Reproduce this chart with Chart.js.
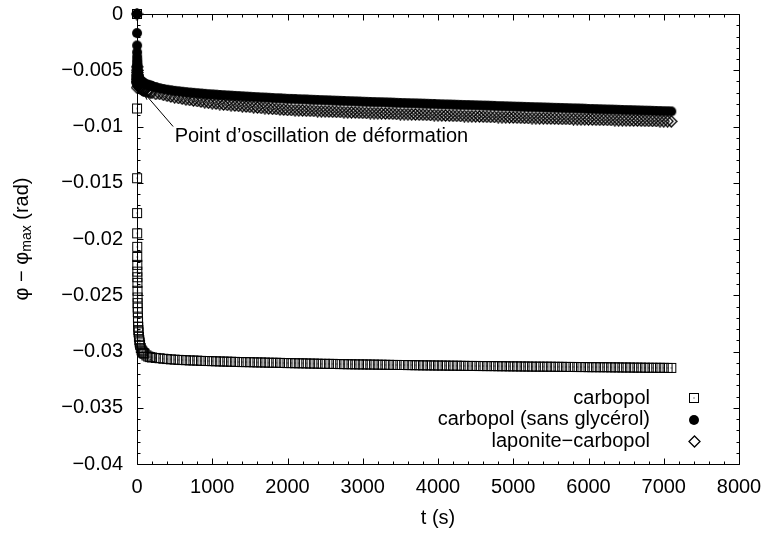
<!DOCTYPE html>
<html>
<head>
<meta charset="utf-8">
<script src="https://cdn.jsdelivr.net/npm/chart.js@4"></script>
<style>
  html, body { margin: 0; padding: 0; background: #fff; }
  canvas { display: block; }
</style>
</head>
<body>
<canvas id="myChart" width="768" height="533"></canvas>
<script>
// temps (s), shared by the three series
const times = [0, 0.5, 1, 1.5, 2, 2.5, 3, 3.5, 4, 4.5, 5, 6, 7, 8, 9, 10, 12, 14, 16, 18, 20, 25, 30, 35, 40,
  50, 60, 70, 80, 90, 100, 125, 150, 175, 200, 250,
  300, 350, 400, 450, 500, 550, 600, 650, 700, 750, 800, 850, 900, 950, 1000,
  1050, 1100, 1150, 1200, 1250, 1300, 1350, 1400, 1450, 1500, 1550, 1600, 1650, 1700, 1750, 1800, 1850, 1900, 1950, 2000,
  2050, 2100, 2150, 2200, 2250, 2300, 2350, 2400, 2450, 2500, 2550, 2600, 2650, 2700, 2750, 2800, 2850, 2900, 2950, 3000,
  3050, 3100, 3150, 3200, 3250, 3300, 3350, 3400, 3450, 3500, 3550, 3600, 3650, 3700, 3750, 3800, 3850, 3900, 3950, 4000,
  4050, 4100, 4150, 4200, 4250, 4300, 4350, 4400, 4450, 4500, 4550, 4600, 4650, 4700, 4750, 4800, 4850, 4900, 4950, 5000,
  5050, 5100, 5150, 5200, 5250, 5300, 5350, 5400, 5450, 5500, 5550, 5600, 5650, 5700, 5750, 5800, 5850, 5900, 5950, 6000,
  6050, 6100, 6150, 6200, 6250, 6300, 6350, 6400, 6450, 6500, 6550, 6600, 6650, 6700, 6750, 6800, 6850, 6900, 6950, 7000,
  7050, 7100];

const carbopol = [0, -0.0084, -0.0146, -0.0177, -0.0195, -0.0207, -0.0216, -0.0223, -0.0229, -0.0234, -0.0239, -0.0246, -0.0252, -0.0257, -0.0261, -0.0265, -0.027, -0.0274, -0.0278, -0.0281, -0.0283, -0.0287, -0.029, -0.0292, -0.0294,
  -0.0297, -0.0299, -0.03, -0.0301, -0.03015, -0.0302, -0.03035, -0.03045, -0.0305, -0.03053, -0.03057,
  -0.0306, -0.03064, -0.03067, -0.0307, -0.03072, -0.03074, -0.03076, -0.03077, -0.03079, -0.0308, -0.03081, -0.03083, -0.03084, -0.03085, -0.03086,
  -0.03087, -0.03088, -0.03089, -0.0309, -0.03091, -0.03092, -0.03093, -0.03094, -0.03094, -0.03095, -0.03096, -0.03097, -0.03097, -0.03098, -0.03099, -0.031, -0.031, -0.03101, -0.03102, -0.03103,
  -0.03103, -0.03104, -0.03105, -0.03105, -0.03106, -0.03107, -0.03107, -0.03108, -0.03109, -0.03109, -0.0311, -0.0311, -0.03111, -0.03112, -0.03112, -0.03113, -0.03113, -0.03114, -0.03114, -0.03115,
  -0.03115, -0.03116, -0.03116, -0.03117, -0.03117, -0.03118, -0.03118, -0.03119, -0.03119, -0.0312, -0.0312, -0.03121, -0.03121, -0.03122, -0.03122, -0.03123, -0.03123, -0.03123, -0.03124, -0.03124,
  -0.03125, -0.03125, -0.03126, -0.03126, -0.03126, -0.03127, -0.03127, -0.03128, -0.03128, -0.03128, -0.03129, -0.03129, -0.0313, -0.0313, -0.0313, -0.03131, -0.03131, -0.03131, -0.03132, -0.03132,
  -0.03132, -0.03133, -0.03133, -0.03133, -0.03134, -0.03134, -0.03134, -0.03135, -0.03135, -0.03135, -0.03136, -0.03136, -0.03136, -0.03137, -0.03137, -0.03137, -0.03138, -0.03138, -0.03138, -0.03139,
  -0.03139, -0.03139, -0.0314, -0.0314, -0.0314, -0.03141, -0.03141, -0.03141, -0.03142, -0.03142, -0.03142, -0.03143, -0.03143, -0.03143, -0.03144, -0.03144, -0.03144, -0.03145, -0.03145, -0.03145,
  -0.03146, -0.03146];

const sansGlycerol = [0, -0.0017, -0.0028, -0.0034, -0.0038, -0.0041, -0.0043, -0.0045, -0.0046, -0.0047, -0.0048, -0.005, -0.0051, -0.0052, -0.00525, -0.0053, -0.0054, -0.00545, -0.0055, -0.00555, -0.0056, -0.0057, -0.0058, -0.00585, -0.0059,
  -0.00595, -0.006, -0.00605, -0.0061, -0.00615, -0.0062, -0.00625, -0.0063, -0.00635, -0.0064, -0.0065,
  -0.0066, -0.00667, -0.00673, -0.00678, -0.00683, -0.00687, -0.00691, -0.00695, -0.00698, -0.00701, -0.00704, -0.00707, -0.0071, -0.00713, -0.00715,
  -0.00717, -0.0072, -0.00722, -0.00724, -0.00726, -0.00728, -0.0073, -0.00732, -0.00734, -0.00736, -0.00738, -0.0074, -0.00742, -0.00743, -0.00745, -0.00747, -0.00749, -0.0075, -0.00752, -0.00754,
  -0.00755, -0.00756, -0.00758, -0.00759, -0.0076, -0.00762, -0.00763, -0.00764, -0.00766, -0.00767, -0.00768, -0.0077, -0.00771, -0.00772, -0.00773, -0.00775, -0.00776, -0.00777, -0.00778, -0.0078,
  -0.00781, -0.00782, -0.00783, -0.00784, -0.00785, -0.00786, -0.00787, -0.00788, -0.0079, -0.00791, -0.00792, -0.00793, -0.00794, -0.00795, -0.00796, -0.00797, -0.00798, -0.00799, -0.008, -0.00802,
  -0.00803, -0.00804, -0.00805, -0.00806, -0.00807, -0.00808, -0.00809, -0.0081, -0.00811, -0.00812, -0.00813, -0.00814, -0.00815, -0.00816, -0.00817, -0.00819, -0.0082, -0.00821, -0.00822, -0.00823,
  -0.00824, -0.00825, -0.00826, -0.00827, -0.00828, -0.00829, -0.0083, -0.00831, -0.00832, -0.00833, -0.00834, -0.00835, -0.00836, -0.00837, -0.00838, -0.00839, -0.0084, -0.00841, -0.00842, -0.00844,
  -0.00845, -0.00846, -0.00847, -0.00848, -0.00849, -0.0085, -0.00851, -0.00852, -0.00853, -0.00854, -0.00855, -0.00856, -0.00857, -0.00858, -0.00859, -0.0086, -0.00861, -0.00862, -0.00863, -0.00864,
  -0.00865, -0.00866];

const laponite = [0, -0.00655, -0.0047, -0.005, -0.0052, -0.0054, -0.0055, -0.0056, -0.0057, -0.0058, -0.0058, -0.0059, -0.006, -0.006, -0.0061, -0.0061, -0.0062, -0.0062, -0.0063, -0.0063, -0.0064, -0.0064, -0.0065, -0.0065, -0.0066,
  -0.0066, -0.0067, -0.0067, -0.0068, -0.0068, -0.0068, -0.0069, -0.0069, -0.007, -0.007, -0.0071,
  -0.0071, -0.00718, -0.00726, -0.00733, -0.0074, -0.00746, -0.00752, -0.00758, -0.00763, -0.00768, -0.00773, -0.00778, -0.00783, -0.00788, -0.00792,
  -0.00796, -0.008, -0.00804, -0.00807, -0.0081, -0.00813, -0.00816, -0.00819, -0.00822, -0.00825, -0.00828, -0.00831, -0.00834, -0.00836, -0.00839, -0.00842, -0.00844, -0.00847, -0.00849, -0.00852,
  -0.00853, -0.00855, -0.00856, -0.00857, -0.00859, -0.0086, -0.00861, -0.00863, -0.00864, -0.00865, -0.00867, -0.00868, -0.00869, -0.0087, -0.00872, -0.00873, -0.00874, -0.00875, -0.00877, -0.00878,
  -0.00879, -0.0088, -0.00881, -0.00882, -0.00883, -0.00884, -0.00885, -0.00886, -0.00888, -0.00889, -0.0089, -0.00891, -0.00892, -0.00893, -0.00894, -0.00895, -0.00896, -0.00897, -0.00898, -0.009,
  -0.00901, -0.00902, -0.00903, -0.00904, -0.00905, -0.00906, -0.00907, -0.00908, -0.00909, -0.0091, -0.00911, -0.00912, -0.00913, -0.00914, -0.00915, -0.00916, -0.00917, -0.00918, -0.00919, -0.0092,
  -0.00921, -0.00922, -0.00923, -0.00924, -0.00925, -0.00926, -0.00927, -0.00927, -0.00928, -0.00929, -0.0093, -0.00931, -0.00932, -0.00932, -0.00933, -0.00934, -0.00935, -0.00936, -0.00936, -0.00937,
  -0.00938, -0.00939, -0.0094, -0.0094, -0.00941, -0.00942, -0.00943, -0.00944, -0.00944, -0.00945, -0.00946, -0.00947, -0.00947, -0.00948, -0.00949, -0.0095, -0.0095, -0.00951, -0.00952, -0.00953,
  -0.00953, -0.00954];

const seriesNames = ['carbopol', 'carbopol (sans glycérol)', 'laponite\u2212carbopol'];

const xTickValues = [0, 1000, 2000, 3000, 4000, 5000, 6000, 7000, 8000];
const yTickValues = [0, -0.005, -0.01, -0.015, -0.02, -0.025, -0.03, -0.035, -0.04];
const yTickLabels = ['0', '\u22120.005', '\u22120.01', '\u22120.015', '\u22120.02', '\u22120.025', '\u22120.03', '\u22120.035', '\u22120.04'];

// oscillation point annotation (data coords)
const noteText = 'Point d\u2019oscillation de déformation';
const noteArrowTip = { x: 80, y: -0.0069 };
const noteArrowTail = { x: 480, y: -0.0100 };
const noteTextAt = { x: 500, y: -0.0109 };

const FONT = '"Liberation Sans", Arial, Helvetica, sans-serif';
Chart.defaults.font.family = FONT;
Chart.defaults.color = '#000';

// gnuplot-like symbols
function symbolSquare() {
    const c = document.createElement('canvas');
    c.width = 12; c.height = 12;
    const g = c.getContext('2d');
    g.strokeStyle = '#000'; g.lineWidth = 1;
    g.strokeRect(1.5, 1.5, 9, 9);
    g.fillStyle = '#000';
    g.fillRect(5.5, 5.5, 1, 1);
    return c;
}
function symbolCircle() {
    const c = document.createElement('canvas');
    c.width = 12; c.height = 12;
    const g = c.getContext('2d');
    g.fillStyle = '#000';
    g.beginPath(); g.arc(6, 6, 5, 0, Math.PI * 2); g.fill();
    return c;
}
function symbolDiamond() {
    const c = document.createElement('canvas');
    c.width = 13; c.height = 13;
    const g = c.getContext('2d');
    g.strokeStyle = '#000'; g.lineWidth = 1.3;
    g.beginPath();
    g.moveTo(6.5, 1); g.lineTo(12, 6.5); g.lineTo(6.5, 12); g.lineTo(1, 6.5); g.closePath();
    g.stroke();
    return c;
}
const symbols = [symbolSquare(), symbolCircle(), symbolDiamond()];

function toPoints(vals) {
    return times.map((t, i) => ({ x: t, y: vals[i] }));
}

// frame, inward ticks on four sides, legend, annotation, y title
const decorPlugin = {
    id: 'decor',
    afterDraw(chart) {
        const ctx = chart.ctx;
        const a = chart.chartArea;
        const xs = chart.scales.x, ys = chart.scales.y;
        ctx.save();
        ctx.strokeStyle = '#000';
        ctx.lineWidth = 1;
        const L = Math.round(a.left) + 0.5, R = Math.round(a.right) + 0.5;
        const T = Math.round(a.top) + 0.5, B = Math.round(a.bottom) + 0.5;
        ctx.beginPath();
        ctx.rect(L, T, R - L, B - T);
        ctx.stroke();

        ctx.beginPath();
        for (let i = 0; i < xTickValues.length; i++) {
            const v = xTickValues[i];
            const px = Math.round(xs.getPixelForValue(v)) + 0.5;
            ctx.moveTo(px, B); ctx.lineTo(px, B - 6);
            ctx.moveTo(px, T); ctx.lineTo(px, T + 6);
            if (i < xTickValues.length - 1) {
                const step = (xTickValues[i + 1] - v) / 5;
                for (let k = 1; k < 5; k++) {
                    const mx = Math.round(xs.getPixelForValue(v + k * step)) + 0.5;
                    ctx.moveTo(mx, B); ctx.lineTo(mx, B - 3);
                    ctx.moveTo(mx, T); ctx.lineTo(mx, T + 3);
                }
            }
        }
        for (let i = 0; i < yTickValues.length; i++) {
            const v = yTickValues[i];
            const py = Math.round(ys.getPixelForValue(v)) + 0.5;
            ctx.moveTo(L, py); ctx.lineTo(L + 6, py);
            ctx.moveTo(R, py); ctx.lineTo(R - 6, py);
            if (i < yTickValues.length - 1) {
                const step = (yTickValues[i + 1] - v) / 5;
                for (let k = 1; k < 5; k++) {
                    const my = Math.round(ys.getPixelForValue(v + k * step)) + 0.5;
                    ctx.moveTo(L, my); ctx.lineTo(L + 3, my);
                    ctx.moveTo(R, my); ctx.lineTo(R - 3, my);
                }
            }
        }
        ctx.stroke();

        // legend
        ctx.font = '20px ' + FONT;
        ctx.fillStyle = '#000';
        ctx.textAlign = 'right';
        ctx.textBaseline = 'middle';
        const rows = [a.bottom - 66, a.bottom - 44.5, a.bottom - 23];
        seriesNames.forEach((name, i) => {
            ctx.fillText(name, a.right - 89, rows[i]);
            const s = symbols[i];
            ctx.drawImage(s, Math.round(a.right - 45 - s.width / 2), Math.round(rows[i] - s.height / 2));
        });

        // annotation
        ctx.textAlign = 'left';
        ctx.fillText(noteText, xs.getPixelForValue(noteTextAt.x), ys.getPixelForValue(noteTextAt.y));
        const tx = xs.getPixelForValue(noteArrowTip.x), ty = ys.getPixelForValue(noteArrowTip.y);
        const sx = xs.getPixelForValue(noteArrowTail.x), sy = ys.getPixelForValue(noteArrowTail.y);
        const ang = Math.atan2(ty - sy, tx - sx);
        ctx.beginPath();
        ctx.moveTo(sx, sy); ctx.lineTo(tx, ty);
        ctx.moveTo(tx - 9 * Math.cos(ang - 0.26), ty - 9 * Math.sin(ang - 0.26));
        ctx.lineTo(tx, ty);
        ctx.lineTo(tx - 9 * Math.cos(ang + 0.26), ty - 9 * Math.sin(ang + 0.26));
        ctx.stroke();

        // y title with subscript
        const parts = [
            { t: '\u03c6 \u2212 \u03c6', f: '20px ' + FONT, dy: 0 },
            { t: 'max', f: '14px ' + FONT, dy: 5 },
            { t: ' (rad)', f: '20px ' + FONT, dy: 0 }
        ];
        let total = 0;
        parts.forEach(p => { ctx.font = p.f; p.w = ctx.measureText(p.t).width; total += p.w; });
        ctx.translate(22, (a.top + a.bottom) / 2);
        ctx.rotate(-Math.PI / 2);
        ctx.textAlign = 'left';
        ctx.textBaseline = 'middle';
        let cx = -total / 2;
        parts.forEach(p => { ctx.font = p.f; ctx.fillText(p.t, cx, p.dy); cx += p.w; });
        ctx.restore();
    }
};

const ctx = document.getElementById('myChart').getContext('2d');
const myChart = new Chart(ctx, {
    type: 'scatter',
    data: {
        datasets: [
            { label: seriesNames[0], data: toPoints(carbopol), pointStyle: symbols[0], order: 2, clip: false },
            { label: seriesNames[1], data: toPoints(sansGlycerol), pointStyle: symbols[1], order: 1, clip: false },
            { label: seriesNames[2], data: toPoints(laponite), pointStyle: symbols[2], order: 0, clip: false }
        ]
    },
    options: {
        responsive: false,
        animation: false,
        devicePixelRatio: 1,
        layout: { padding: { top: 14, right: 29, left: 0, bottom: 0 } },
        scales: {
            x: {
                type: 'linear',
                min: 0,
                max: 8000,
                afterFit: (s) => { s.height = 69; s.paddingLeft = 0; s.paddingRight = 0; },
                afterBuildTicks: (s) => { s.ticks = xTickValues.map(v => ({ value: v })); },
                grid: { display: false, drawTicks: false },
                border: { display: false },
                ticks: { font: { size: 20 }, color: '#000', padding: 11, maxRotation: 0, autoSkip: false,
                    callback: (v) => String(v) },
                title: { display: true, text: 't (s)', font: { size: 20 }, color: '#000', padding: { top: 0, bottom: 3 } }
            },
            y: {
                type: 'linear',
                min: -0.04,
                max: 0,
                afterFit: (s) => { s.width = 137; s.paddingTop = 0; s.paddingBottom = 0; },
                afterBuildTicks: (s) => { s.ticks = yTickValues.map(v => ({ value: v })); },
                grid: { display: false, drawTicks: false },
                border: { display: false },
                ticks: { font: { size: 20 }, color: '#000', padding: 14, autoSkip: false,
                    callback: (v, i) => yTickLabels[i] }
            }
        },
        plugins: {
            legend: { display: false },
            tooltip: { enabled: false }
        }
    },
    plugins: [decorPlugin]
});
</script>
</body>
</html>
